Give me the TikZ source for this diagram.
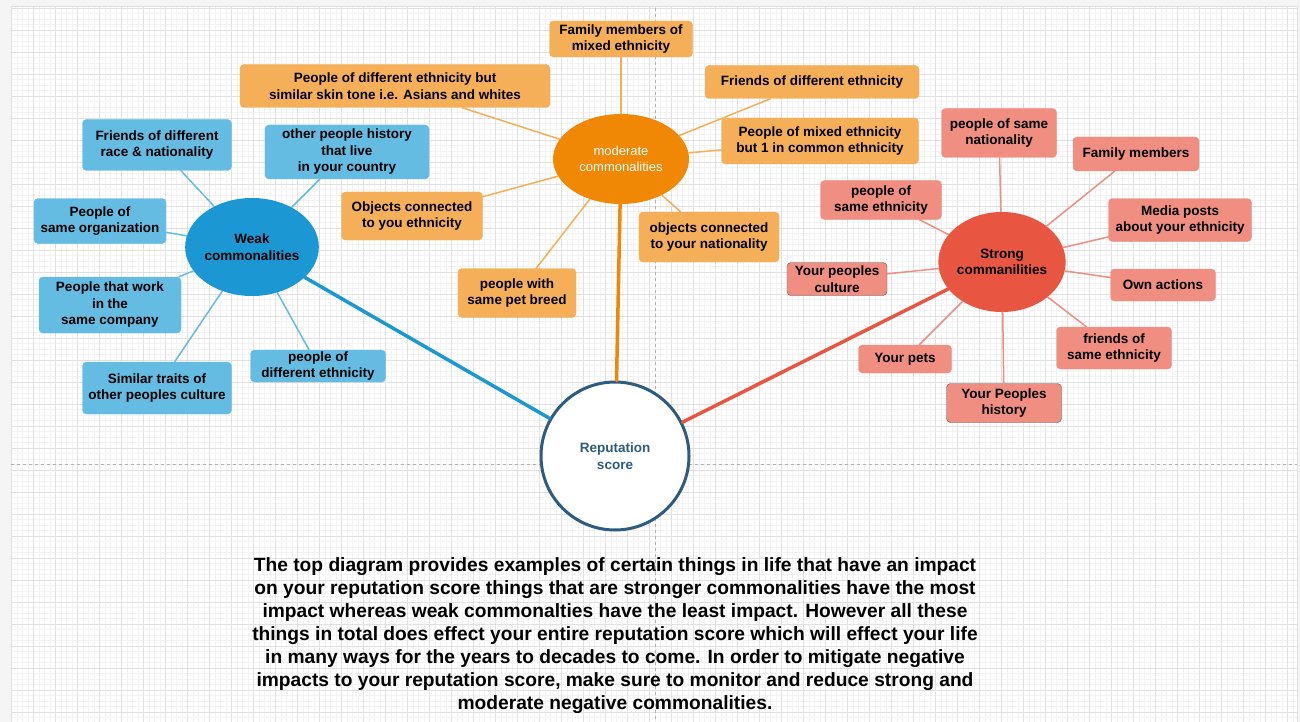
\documentclass[tikz,border=0pt]{standalone}
\usepackage{fontspec}
\setmainfont{Liberation Sans}
\usetikzlibrary{shapes.geometric}

\definecolor{weakblue}{HTML}{1B98D3}
\definecolor{weaklight}{HTML}{64BCE2}
\definecolor{modorange}{HTML}{F08705}
\definecolor{modlight}{HTML}{F5AF58}
\definecolor{strongred}{HTML}{E85642}
\definecolor{stronglight}{HTML}{F08E81}
\definecolor{repblue}{HTML}{2E5B80}
\definecolor{gridminor}{HTML}{F3F3F3}
\definecolor{gridmajor}{HTML}{E1E1E1}

\begin{document}
\begin{tikzpicture}[x=1pt, y=-1pt, line cap=round, line join=round,
    box/.style={rounded corners=4pt, align=center, inner sep=0pt,
        font=\fontsize{13.5}{16.5}\selectfont\bfseries},
    weakbox/.style={box, fill=weaklight, draw=weaklight},
    modbox/.style={box, fill=modlight, draw=modlight},
    strongbox/.style={box, fill=stronglight, draw=stronglight},
    hub/.style={ellipse, inner sep=0pt, align=center,
        font=\fontsize{13.5}{16.5}\selectfont\bfseries},
    weakline/.style={weaklight, line width=1.5pt},
    modline/.style={modlight, line width=1.5pt},
    strongline/.style={stronglight, line width=1.5pt}]

    \useasboundingbox (0,0) rectangle (1300,722);

    % Hoja de fondo con cuadricula
    \fill[black!4] (0,0) rectangle (1300,722);
    \fill[white] (11,7) rectangle (1297,722);
    \foreach \x in {0,...,233}
        \draw[gridminor, line width=0.6pt] (11.3+5.5*\x,7) -- (11.3+5.5*\x,722);
    \foreach \y in {0,...,129}
        \draw[gridminor, line width=0.6pt] (11,8+5.5*\y) -- (1297,8+5.5*\y);
    \foreach \x in {0,...,58}
        \draw[gridmajor, line width=0.8pt] (11.3+22*\x,7) -- (11.3+22*\x,722);
    \foreach \y in {0,...,32}
        \draw[gridmajor, line width=0.8pt] (11,8+22*\y) -- (1297,8+22*\y);
    \draw[black!12, line width=1pt] (11,722) -- (11,7) -- (1297,7) -- (1297,722);

    % Cortes de pagina
    \draw[black!30, dashed] (655.5,8) -- (655.5,722);
    \draw[black!30, dashed] (11,464) -- (1297,464);

    % Nodo central
    \node[circle, draw=repblue, line width=3pt, fill=white, minimum size=148,
        text=repblue, align=center, font=\fontsize{13.5}{16.5}\selectfont\bfseries]
        (rep) at (615,456) {Reputation\\score};

    % Comunalidades debiles
    \node[hub, fill=weakblue, minimum width=118, minimum height=98]
        (weak) at (252,247) {Weak\\commonalities};
    \node[weakbox, minimum width=149, minimum height=51]
        (w1) at (157,145) {Friends of different\\race \& nationality};
    \node[weakbox, minimum width=164, minimum height=54]
        (w2) at (347,152) {other people history\\that live\\in your country};
    \node[weakbox, minimum width=132, minimum height=45]
        (w3) at (100,221) {People of\\same organization};
    \node[weakbox, minimum width=142, minimum height=56]
        (w4) at (110,305) {People that work\\in the\\same company};
    \node[weakbox, minimum width=149, minimum height=52]
        (w5) at (157,388) {Similar traits of\\other peoples culture};
    \node[weakbox, minimum width=135, minimum height=32]
        (w6) at (318,366) {people of\\different ethnicity};

    % Comunalidades moderadas
    \node[hub, fill=modorange, minimum width=136, minimum height=90, text=white,
        font=\fontsize{13}{16.5}\selectfont]
        (mod) at (621,159) {moderate\\commonalities};
    \node[modbox, minimum width=143, minimum height=36]
        (m1) at (621,39) {Family members of\\mixed ethnicity};
    \node[modbox, minimum width=310, minimum height=43]
        (m2) at (395,86) {People of different ethnicity but\\similar skin tone i.e. Asians and whites};
    \node[modbox, minimum width=214, minimum height=33]
        (m3) at (812,82) {Friends of different ethnicity};
    \node[modbox, minimum width=197, minimum height=46]
        (m4) at (820,141) {People of mixed ethnicity\\but 1 in common ethnicity};
    \node[modbox, minimum width=141, minimum height=48]
        (m5) at (412,216) {Objects connected\\to you ethnicity};
    \node[modbox, minimum width=118, minimum height=49]
        (m6) at (517,293) {people with\\same pet breed};
    \node[modbox, minimum width=140, minimum height=50]
        (m7) at (709,237) {objects connected\\to your nationality};

    % Comunalidades fuertes
    \node[hub, fill=strongred, minimum width=118, minimum height=100]
        (strong) at (1002,262) {Strong\\commanilities};
    \node[strongbox, minimum width=115, minimum height=49]
        (s1) at (999,133) {people of same\\nationality};
    \node[strongbox, minimum width=126, minimum height=34]
        (s2) at (1136,154) {Family members};
    \node[strongbox, minimum width=121, minimum height=39]
        (s3) at (881,200) {people of\\same ethnicity};
    \node[strongbox, minimum width=143, minimum height=43]
        (s4) at (1180,220) {Media posts\\about your ethnicity};
    \node[strongbox, draw=black!65, minimum width=100, minimum height=33]
        (s5) at (837,279) {Your peoples\\culture};
    \node[strongbox, minimum width=105, minimum height=32]
        (s6) at (1163,285) {Own actions};
    \node[strongbox, minimum width=115, minimum height=42]
        (s7) at (1114,348) {friends of\\same ethnicity};
    \node[strongbox, minimum width=93, minimum height=28]
        (s8) at (905,359) {Your pets};
    \node[strongbox, draw=black!65, minimum width=115, minimum height=39]
        (s9) at (1004,403) {Your Peoples\\history};

    % Conectores
    \draw[weakline] (weak) -- (w1);
    \draw[weakline] (weak) -- (w2);
    \draw[weakline] (weak) -- (w3);
    \draw[weakline] (weak) -- (w4);
    \draw[weakline] (weak) -- (w5);
    \draw[weakline] (weak) -- (w6);
    \draw[modline] (mod) -- (m1);
    \draw[modline] (mod) -- (m2);
    \draw[modline] (mod) -- (m3);
    \draw[modline] (mod) -- (m4);
    \draw[modline] (mod) -- (m5);
    \draw[modline] (mod) -- (m6);
    \draw[modline] (mod) -- (m7);
    \draw[strongline] (strong) -- (s1);
    \draw[strongline] (strong) -- (s2);
    \draw[strongline] (strong) -- (s3);
    \draw[strongline] (strong) -- (s4);
    \draw[strongline] (strong) -- (s5);
    \draw[strongline] (strong) -- (s6);
    \draw[strongline] (strong) -- (s7);
    \draw[strongline] (strong) -- (s8);
    \draw[strongline] (strong) -- (s9);

    % Hacia el puntaje
    \draw[weakblue, line width=3.5pt] (weak) -- (rep);
    \draw[modorange, line width=3.5pt] (mod) -- (rep);
    \draw[strongred, line width=3.5pt] (strong) -- (rep);

    % Texto explicativo
    \node[align=center, font=\fontsize{19.2}{23}\selectfont\bfseries] (note) at (615,636)
    {The top diagram provides examples of certain things in life that have an impact\\
     on your reputation score things that are stronger commonalities have the most\\
     impact whereas weak commonalties have the least impact. However all these\\
     things in total does effect your entire reputation score which will effect your life\\
     in many ways for the years to decades to come. In order to mitigate negative\\
     impacts to your reputation score, make sure to monitor and reduce strong and\\
     moderate negative commonalities.};

\end{tikzpicture}
\end{document}
